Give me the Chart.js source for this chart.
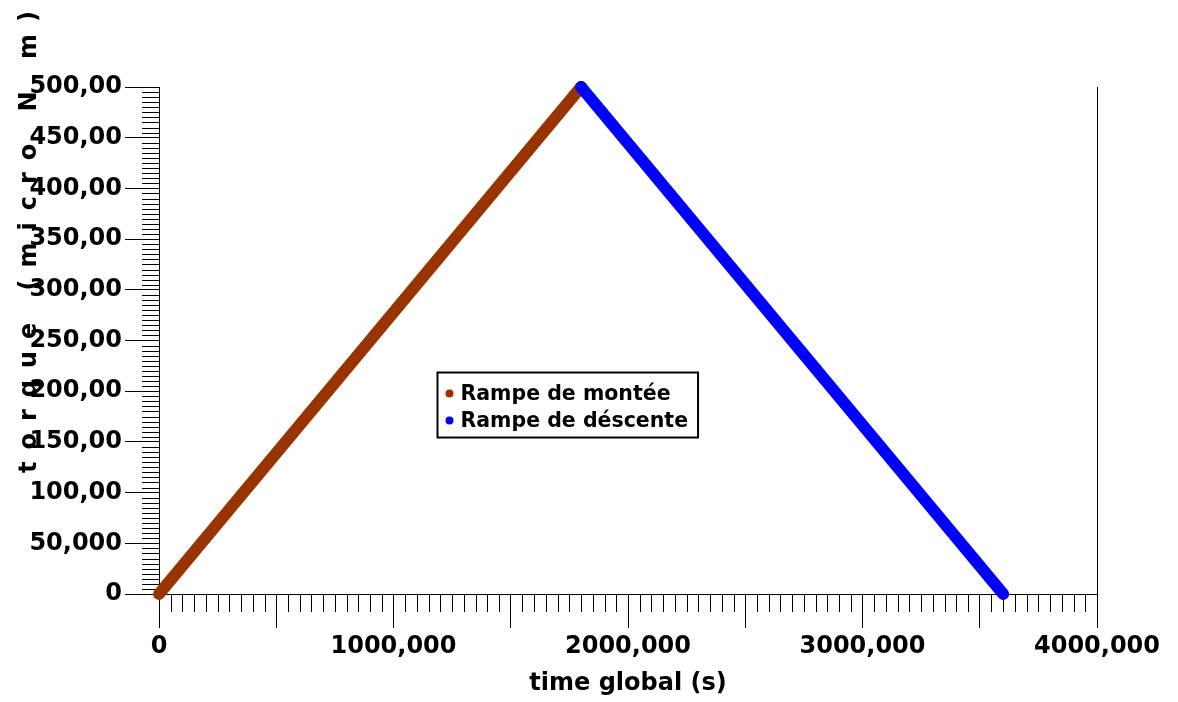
<!DOCTYPE html>
<html>
<head>
<meta charset="utf-8">
<script src="https://cdn.jsdelivr.net/npm/chart.js@4.4.0/dist/chart.umd.min.js"></script>
<style>
  html, body { margin: 0; padding: 0; background: #fff; }
</style>
</head>
<body>
<canvas id="chart" width="1178" height="702"></canvas>
<script>
// data
const rampUpTime = [0, 1800];
const rampUpTorque = [0, 500];
const rampDownTime = [1800, 3600];
const rampDownTorque = [500, 0];
const seriesNames = ['Rampe de montée', 'Rampe de déscente'];
const seriesColors = ['#993300', '#0000ff'];
const xTickLabels = ['0', '1000,000', '2000,000', '3000,000', '4000,000'];
const yTickLabels = ['0', '50,000', '100,00', '150,00', '200,00', '250,00',
  '300,00', '350,00', '400,00', '450,00', '500,00'];
const xTitle = 'time global (s)';
const yTitle = 'torque (micro N m)';

const FONT = '"DejaVu Sans", sans-serif';

function toPoints(xs, ys) {
  return xs.map((x, i) => ({ x: x, y: ys[i] }));
}

// small ticks between the big ones
const minorTicks = {
  id: 'minorTicks',
  beforeDatasetsDraw(chart) {
    const { ctx } = chart;
    const x = chart.scales.x, y = chart.scales.y;
    ctx.save();
    ctx.strokeStyle = '#000';
    ctx.lineWidth = 1;
    ctx.beginPath();
    for (let v = 0; v <= 500; v += 5) {
      if (v % 50 === 0) continue;
      const py = Math.round(y.getPixelForValue(v)) + 0.5;
      ctx.moveTo(y.right - 17, py);
      ctx.lineTo(y.right, py);
    }
    for (let v = 0; v <= 4000; v += 50) {
      if (v % 500 === 0) continue;
      const px = Math.round(x.getPixelForValue(v)) + 0.5;
      ctx.moveTo(px, x.top);
      ctx.lineTo(px, x.top + 18);
    }
    ctx.stroke();
    ctx.restore();
  }
};

// spaced out vertical title + boxed legend in the middle
const extras = {
  id: 'extras',
  afterDraw(chart) {
    const { ctx, chartArea: ca } = chart;

    ctx.save();
    ctx.font = 'bold 24px ' + FONT;
    ctx.fillStyle = '#000';
    ctx.textAlign = 'left';
    ctx.textBaseline = 'alphabetic';
    const chars = [...yTitle];
    const widths = chars.map(c => ctx.measureText(c).width);
    const total = widths.reduce((a, b) => a + b, 0);
    const span = 462;
    const gap = (span - total) / (chars.length - 1);
    ctx.translate(36, 242);
    ctx.rotate(-Math.PI / 2);
    let pos = -span / 2;
    chars.forEach((c, i) => {
      ctx.fillText(c, pos, 0);
      pos += widths[i] + gap;
    });
    ctx.restore();

    ctx.save();
    ctx.font = 'bold 20.5px ' + FONT;
    const bx = Math.round(ca.left + (ca.right - ca.left) * 0.2965) + 0.5;
    const by = Math.round(ca.top + (ca.bottom - ca.top) * 0.562) + 0.5;
    const maxW = Math.max(...seriesNames.map(n => ctx.measureText(n).width));
    const bw = 23 + maxW + 10;
    const bh = 65;
    ctx.fillStyle = '#fff';
    ctx.fillRect(bx, by, bw, bh);
    ctx.strokeStyle = '#000';
    ctx.lineWidth = 2;
    ctx.strokeRect(bx, by, bw, bh);
    ctx.textBaseline = 'middle';
    chart.data.datasets.forEach((ds, i) => {
      const cy = by + 21 + i * 27;
      ctx.fillStyle = ds.borderColor;
      ctx.beginPath();
      ctx.arc(bx + 12, cy, 4, 0, Math.PI * 2);
      ctx.fill();
      ctx.fillStyle = '#000';
      ctx.fillText(ds.label, bx + 23, cy + 1);
    });
    ctx.restore();
  }
};

new Chart(document.getElementById('chart').getContext('2d'), {
  type: 'line',
  data: {
    datasets: [
      {
        label: seriesNames[0],
        data: toPoints(rampUpTime, rampUpTorque),
        borderColor: seriesColors[0],
        backgroundColor: seriesColors[0],
        borderWidth: 12,
        borderCapStyle: 'round',
        pointRadius: 0,
        tension: 0,
        clip: false,
        order: 1,
      },
      {
        label: seriesNames[1],
        data: toPoints(rampDownTime, rampDownTorque),
        borderColor: seriesColors[1],
        backgroundColor: seriesColors[1],
        borderWidth: 12,
        borderCapStyle: 'round',
        pointRadius: 0,
        tension: 0,
        clip: false,
        order: 0,
      },
    ],
  },
  options: {
    responsive: false,
    animation: false,
    devicePixelRatio: 1,
    layout: { padding: { top: 87, right: 81, bottom: 0, left: 0 } },
    plugins: {
      legend: { display: false },
      tooltip: { enabled: false },
    },
    scales: {
      x: {
        type: 'linear',
        position: 'bottom',
        min: 0,
        max: 4000,
        afterFit: s => { s.height = 108; },
        grid: { drawOnChartArea: false, tickLength: 34, color: '#000', lineWidth: 1 },
        border: { color: '#000', width: 1 },
        ticks: {
          stepSize: 500,
          autoSkip: false,
          maxRotation: 0,
          padding: 4,
          color: '#000',
          font: { family: FONT, weight: 'bold', size: 24 },
          callback: v => (v % 1000 === 0 ? xTickLabels[v / 1000] : ''),
        },
        title: {
          display: true,
          text: xTitle,
          color: '#000',
          font: { family: FONT, weight: 'bold', size: 24 },
          padding: { top: 0, bottom: 4 },
        },
      },
      y: {
        type: 'linear',
        position: 'left',
        min: 0,
        max: 500,
        afterFit: s => { s.width = 159; },
        grid: { drawOnChartArea: false, tickLength: 34, color: '#000', lineWidth: 1 },
        border: { color: '#000', width: 1 },
        ticks: {
          stepSize: 50,
          autoSkip: false,
          padding: 3,
          color: '#000',
          font: { family: FONT, weight: 'bold', size: 24 },
          callback: v => yTickLabels[v / 50],
        },
      },
      yRight: {
        type: 'linear',
        position: 'right',
        min: 0,
        max: 500,
        afterFit: s => { s.width = 0; },
        grid: { drawOnChartArea: false, drawTicks: false },
        border: { color: '#000', width: 1 },
        ticks: { display: false },
      },
    },
  },
  plugins: [minorTicks, extras],
});
</script>
</body>
</html>
